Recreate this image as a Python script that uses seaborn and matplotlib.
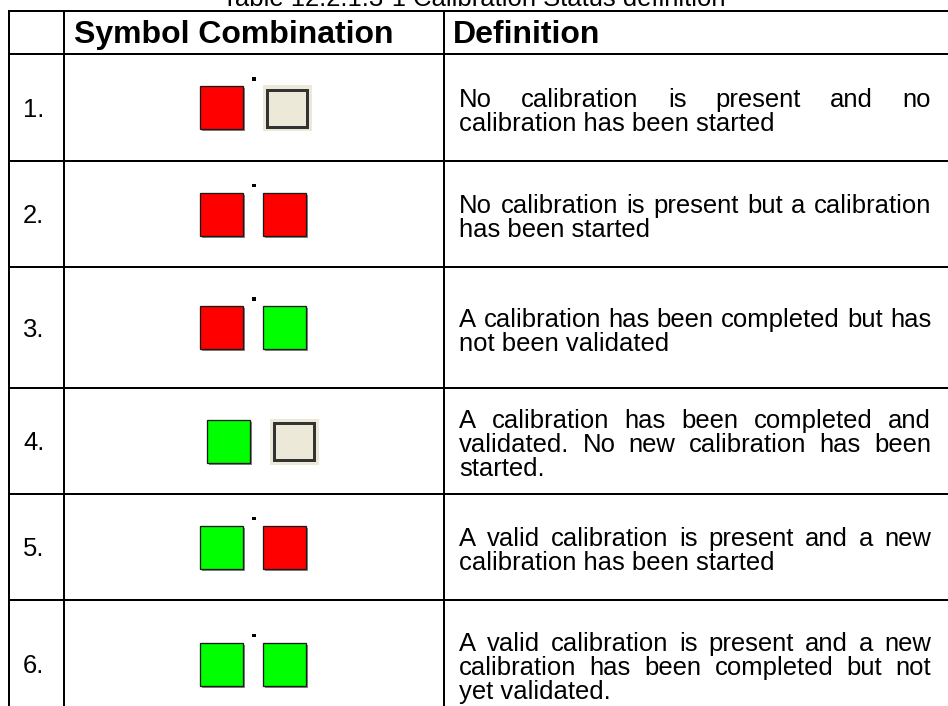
import numpy as np
import pandas as pd
import seaborn as sns
import matplotlib
matplotlib.use("Agg")
import matplotlib.pyplot as plt
from matplotlib.patches import Rectangle

# ---------------- data ----------------
title = "Table 12.2.1.3-1 Calibration Status definition"
header_symbol = "Symbol Combination"
header_definition = "Definition"
row_labels = ["1.", "2.", "3.", "4.", "5.", "6."]
left_symbol = ["red", "red", "red", "green", "green", "green"]
right_symbol = ["empty", "red", "green", "empty", "red", "green"]
has_dot = [True, True, True, False, True, True]
definitions = [
    ["No calibration is present and no", "calibration has been started"],
    ["No calibration is present but a calibration", "has been started"],
    ["A calibration has been completed but has", "not been validated"],
    ["A calibration has been completed and", "validated. No new calibration has been", "started."],
    ["A valid calibration is present and a new", "calibration has been started"],
    ["A valid calibration is present and a new", "calibration has been completed but not", "yet validated."],
]

# ---------------- layout / style ----------------
W, H = 948, 706
sns.set_theme(style="white")
plt.rcParams["font.family"] = ["Liberation Sans", "DejaVu Sans"]
plt.rcParams["text.color"] = "black"

fig = plt.figure(figsize=(W / 100, H / 100), dpi=100)
ax = fig.add_axes([0, 0, 1, 1])

PX = 0.72  # points per pixel at dpi 100
body_px = 25.6
head_px = 32.0
header_top = 11
row_edges = [54, 161, 267, 388, 494, 600, 728]
col_x = [9, 64, 444]
text_left, text_right = 459, 931
line_gap = 24
lw = 2.0 * PX
sq = 43

fill = {"red": "#FF0000", "green": "#00FF00"}
sym_shift = [0, 0, 0, 7, 0, 0]

# dots via seaborn
dot_x, dot_y = [], []
for i in range(len(row_labels)):
    cy = (row_edges[i + 1] + row_edges[i]) / 2
    if has_dot[i]:
        dot_x.append(254)
        dot_y.append(cy - sq / 2 - 7)
dots = pd.DataFrame({"x": dot_x, "y": dot_y})
sns.scatterplot(data=dots, x="x", y="y", marker="s", s=5, color="black",
                edgecolor="none", ax=ax, legend=False)

ax.set_xlim(0, W)
ax.set_ylim(H, 0)
ax.axis("off")

# grid lines (no right border, bottom clipped)
for y in [header_top] + row_edges[:-1]:
    ax.plot([col_x[0] - 1, W], [y, y], color="black", lw=lw, solid_capstyle="butt")
for x in col_x:
    ax.plot([x, x], [header_top - 1, H], color="black", lw=lw, solid_capstyle="butt")

# title (partially clipped at top)
ax.text(474, 6, title, ha="center", va="baseline", fontsize=body_px * PX, color="black")

# headers
hb = 43
ax.text(74, hb, header_symbol, ha="left", va="baseline", fontsize=head_px * PX,
        fontweight="bold", color="black")
ax.text(453, hb, header_definition, ha="left", va="baseline", fontsize=head_px * PX,
        fontweight="bold", color="black")

renderer = fig.canvas.get_renderer()


def word_width(w):
    t = ax.text(0, 0, w, fontsize=body_px * PX)
    bb = t.get_window_extent(renderer=renderer)
    t.remove()
    return bb.width


def draw_square(x, y, s, kind):
    if kind == "empty":
        bw, bh = 49, 46
        ax.add_patch(Rectangle((x, y - 1), bw, bh, facecolor="#ECE9D8", edgecolor="none"))
        ax.add_patch(Rectangle((x + 4.5, y + 3.5), bw - 9, bh - 9, facecolor="#ECE9D8",
                               edgecolor="#333333", lw=3 * PX))
    else:
        ax.add_patch(Rectangle((x + 2, y + 2), s, s, facecolor="#8a8a8a", edgecolor="none"))
        ax.add_patch(Rectangle((x, y), s, s, facecolor=fill[kind], edgecolor="#1a1a1a",
                               lw=1.3 * PX))


cap_half = 0.36 * body_px
for i, lab in enumerate(row_labels):
    top, bot = row_edges[i], row_edges[i + 1]
    cy = (top + bot) / 2
    ax.text(23, cy + cap_half, lab, ha="left", va="baseline", fontsize=body_px * PX,
            color="black")

    sy = cy - sq / 2
    draw_square(200 + sym_shift[i], sy, sq, left_symbol[i])
    draw_square(263 + sym_shift[i], sy, sq, right_symbol[i])

    lines = definitions[i]
    n = len(lines)
    for j, line in enumerate(lines):
        ly = cy + (j - (n - 1) / 2) * line_gap + 2 + cap_half
        if j < n - 1:
            words = line.split(" ")
            widths = [word_width(w) for w in words]
            gap = (text_right - text_left - sum(widths)) / (len(words) - 1)
            x = text_left
            for w, wd in zip(words, widths):
                ax.text(x, ly, w, ha="left", va="baseline", fontsize=body_px * PX,
                        color="black")
                x += wd + gap
        else:
            ax.text(text_left, ly, line, ha="left", va="baseline", fontsize=body_px * PX,
                    color="black")

fig.savefig("out.png", dpi=100)
